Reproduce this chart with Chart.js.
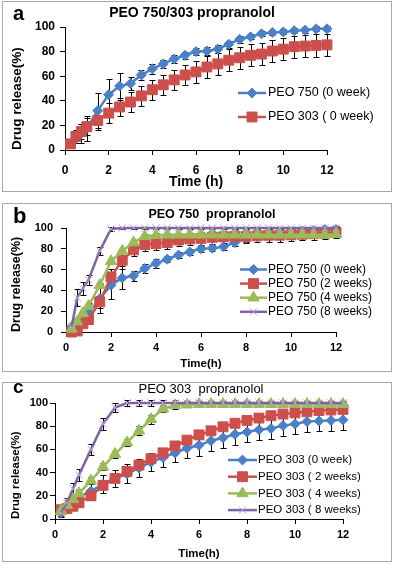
<!DOCTYPE html>
<html>
<head>
<meta charset="utf-8">
<script src="https://cdn.jsdelivr.net/npm/chart.js@4.4.1/dist/chart.umd.min.js"></script>
<style>
  body { margin: 0; background: #fff; width: 394px; height: 564px; position: relative; overflow: hidden; }
  .panel { position: absolute; left: 2px; width: 390px; box-sizing: border-box; border: 1px solid #a8a8a8; background: #fff; }
  .panel canvas { display: block; }
</style>
</head>
<body>
<div class="panel" style="top:1px;height:191px"><canvas id="chartA" width="388" height="189"></canvas></div>
<div class="panel" style="top:203px;height:169px"><canvas id="chartB" width="388" height="167"></canvas></div>
<div class="panel" style="top:382px;height:180px"><canvas id="chartC" width="388" height="178"></canvas></div>
<script>
// sampling times (h)
const times = [0.25, 0.5, 0.75, 1, 1.5, 2, 2.5, 3, 3.5, 4, 4.5, 5, 5.5, 6, 6.5, 7, 7.5, 8, 8.5, 9, 9.5, 10, 10.5, 11, 11.5, 12]

// PEO 750
const peo750w0 = [5, 9.5, 13.5, 17.5, 32, 45, 52, 54, 61, 66, 70, 74, 77, 80, 80.5, 82, 86, 90, 92, 94.5, 95.5, 96, 97, 97.5, 98.5, 98.5]
const err750w0 = [2, 4, 8, 10, 14, 13, 11, 5, 4, 4, 3, 3, 3, 3, 3, 3, 3, 3, 2, 2, 2, 2, 2, 2, 2, 2]
const peo750w2 = [0, 1, 8, 12, 29, 53, 69, 79, 84, 85, 86, 88.5, 89.5, 90, 91, 91.5, 92, 92, 92.5, 93, 93, 93.5, 94, 94.5, 95, 96]
const err750w2 = [1, 2, 3, 4, 6, 8, 8, 6, 6, 6, 6, 6, 6, 6, 6, 6, 6, 6, 6, 6, 6, 6, 6, 6, 6, 6]
const peo750w4 = [3, 10, 18, 25, 45, 68, 78, 86, 92, 93, 93.5, 93.5, 93.5, 93.5, 93.5, 93.5, 93.5, 93.5, 93.5, 93.5, 93.5, 93.5, 93.5, 93.5, 93.5, 94]
const err750w4 = [2, 2, 2, 2, 2, 2, 2, 2, 2, 2, 2, 2, 2, 2, 2, 2, 2, 2, 2, 2, 2, 2, 2, 2, 2, 2]
const peo750w8 = [5, 33, 42, 50, 78, 99, 100, 100, 100, 100, 100, 100, 100, 100, 100, 100, 100, 100, 100, 100, 100, 100, 100, 100, 100, 100]
const err750w8 = [2, 8, 6, 5, 4, 2, 1, 1, 1, 1, 1, 1, 1, 1, 1, 1, 1, 1, 1, 1, 1, 1, 1, 1, 1, 1]

// PEO 303
const peo303w0 = [5, 11, 15, 19, 24, 30, 35, 39, 44, 49, 53, 57, 61, 63.5, 67.5, 70, 73, 75, 77, 78, 80.5, 82, 84, 84.5, 85, 85.5]
const err303w0 = [3, 5, 6, 7, 8, 8, 7, 8, 8, 8, 8, 8, 8, 9, 9, 9, 9, 9, 9, 9, 9, 9, 9, 9, 9, 9]
const peo303w2 = [8, 9, 11, 14, 20, 29, 35, 41, 46.5, 52, 57, 63, 68, 72.5, 76, 79.5, 82.5, 85, 87, 89, 90.5, 91.5, 92.5, 93.5, 94, 94.5]
const err303w2 = [2, 2, 2, 3, 3, 3, 3, 3, 3, 3, 3, 3, 3, 3, 3, 3, 3, 3, 3, 3, 3, 3, 3, 3, 3, 3]
const peo303w4 = [7, 12, 17, 22, 33, 45, 56, 66, 76, 86, 95, 98, 98.5, 99, 99, 99, 99, 99, 99, 99, 99, 99, 99, 99, 99, 99]
const err303w4 = [2, 2, 3, 3, 3, 3, 3, 3, 4, 4, 3, 3, 2, 2, 2, 2, 2, 2, 2, 2, 2, 2, 2, 2, 2, 2]
const peo303w8 = [5, 14, 26, 38, 60, 82, 96, 100, 100, 100, 100, 100, 100, 100, 100, 100, 100, 100, 100, 100, 100, 100, 100, 100, 100, 100]
const err303w8 = [2, 4, 5, 5, 5, 5, 4, 3, 3, 3, 3, 3, 2, 2, 2, 2, 2, 2, 2, 2, 2, 2, 2, 2, 2, 2]

const xTicks = [0, 2, 4, 6, 8, 10, 12]
const yTicks = [0, 20, 40, 60, 80, 100]

const blue = '#4a80c8'
const red = '#cc4f4c'
const green = '#9bbb59'
const purple = '#8064a2'

Chart.defaults.font.family = "'Liberation Sans', Arial, sans-serif"
Chart.defaults.color = '#000'

function series(label, values, errors, color, style, radius, pointColor) {
    return {
        label: label,
        data: times.map((t, i) => ({ x: t, y: values[i] })),
        errors: errors,
        borderColor: color,
        backgroundColor: color,
        borderWidth: 2.5,
        pointStyle: style,
        pointRadius: radius,
        pointHoverRadius: radius,
        pointBackgroundColor: pointColor || color,
        pointBorderColor: pointColor || color,
        pointBorderWidth: 1,
        tension: 0,
        clip: false
    }
}

// error bars, drawn under the lines
const errorBars = {
    id: 'errorBars',
    beforeDatasetsDraw(chart) {
        const ctx = chart.ctx
        const x = chart.scales.x, y = chart.scales.y
        ctx.save()
        ctx.strokeStyle = '#000'
        ctx.lineWidth = 1
        chart.data.datasets.forEach(ds => {
            if (!ds.errors) return
            ds.data.forEach((p, j) => {
                const e = ds.errors[j]
                if (!e) return
                const px = Math.round(x.getPixelForValue(p.x)) + 0.5
                const top = Math.round(y.getPixelForValue(p.y + e)) + 0.5
                const bot = Math.round(y.getPixelForValue(p.y - e)) + 0.5
                ctx.beginPath()
                ctx.moveTo(px, top); ctx.lineTo(px, bot)
                ctx.moveTo(px - 3, top); ctx.lineTo(px + 3, top)
                ctx.moveTo(px - 3, bot); ctx.lineTo(px + 3, bot)
                ctx.stroke()
            })
        })
        ctx.restore()
    }
}

// legend inside the plot
const boxLegend = {
    id: 'boxLegend',
    afterDraw(chart, args, o) {
        const ctx = chart.ctx
        ctx.save()
        chart.data.datasets.forEach((ds, i) => {
            const y = o.y + i * o.dy
            ctx.strokeStyle = ds.borderColor
            ctx.lineWidth = ds.borderWidth
            ctx.beginPath()
            ctx.moveTo(o.x0, y); ctx.lineTo(o.x1, y)
            ctx.stroke()
            ctx.fillStyle = ds.pointBackgroundColor
            ctx.strokeStyle = ds.pointBorderColor
            ctx.lineWidth = 1
            Chart.helpers.drawPoint(ctx, { pointStyle: ds.pointStyle, radius: ds.pointRadius, borderWidth: 1, rotation: 0 }, (o.x0 + o.x1) / 2, y)
            ctx.fillStyle = '#000'
            ctx.font = o.font
            ctx.textAlign = 'left'
            ctx.textBaseline = 'middle'
            ctx.fillText(ds.label, o.textX, y)
        })
        ctx.restore()
    }
}

// panel letter + title
const panelText = {
    id: 'panelText',
    afterDraw(chart, args, o) {
        const ctx = chart.ctx
        ctx.save()
        ctx.fillStyle = '#000'
        ctx.font = o.letterFont
        ctx.textAlign = 'left'
        ctx.textBaseline = 'alphabetic'
        ctx.fillText(o.letter, o.letterX, o.letterY)
        ctx.font = o.titleFont
        ctx.textAlign = 'center'
        ctx.textBaseline = 'middle'
        ctx.fillText(o.title, o.titleX, o.titleY)
        ctx.restore()
    }
}

function scales(o) {
    return {
        x: {
            type: 'linear', min: 0, max: 12,
            afterBuildTicks: s => { s.ticks = xTicks.map(v => ({ value: v })) },
            ticks: { padding: o.xPad, color: '#000', font: { size: o.tickSize, weight: 'bold' } },
            grid: { drawOnChartArea: false, tickLength: 5, color: '#000' },
            border: { color: '#000', width: 1 },
            title: { display: true, text: o.xTitle, color: '#000', font: { size: o.xTitleSize, weight: 'bold' }, padding: { top: 0, bottom: 0 } },
            afterFit: s => { s.height = o.xH }
        },
        y: {
            type: 'linear', min: 0, max: 100,
            afterBuildTicks: s => { s.ticks = yTicks.map(v => ({ value: v })) },
            ticks: { padding: o.yPad, color: '#000', font: { size: o.tickSize, weight: 'bold' } },
            grid: { drawOnChartArea: false, tickLength: 5, color: '#000' },
            border: { color: '#000', width: 1 },
            title: { display: true, align: 'start', text: 'Drug release(%)', color: '#000', font: { size: o.yTitleSize, weight: 'bold' }, padding: { top: 4, bottom: 2 } },
            afterFit: s => { s.width = o.yW }
        }
    }
}

function makeChart(id, datasets, o) {
    datasets.forEach((ds, i) => { ds.order = -i })
    return new Chart(document.getElementById(id), {
        type: 'line',
        data: { datasets: datasets },
        options: {
            responsive: false,
            animation: false,
            layout: { padding: o.padding },
            scales: scales(o),
            plugins: {
                legend: { display: false },
                tooltip: { enabled: false },
                boxLegend: o.legend,
                panelText: o.text
            }
        },
        plugins: [errorBars, boxLegend, panelText]
    })
}

makeChart('chartA', [
    series('PEO 750 (0 week)', peo750w0, err750w0, blue, 'rectRot', 5),
    series('PEO 303 ( 0 week)', peo303w0, err303w0, red, 'rect', 7)
], {
    padding: { left: 2, right: 64, top: 25, bottom: 0 },
    yW: 60, xH: 41, xPad: 8, yPad: 5, tickSize: 12, xTitle: 'Time (h)', xTitleSize: 14, yTitleSize: 13.5,
    legend: { x0: 235, x1: 263, textX: 265, y: 91, dy: 24, font: "12.5px 'Liberation Sans', Arial" },
    text: { letter: 'a', letterX: 10, letterY: 18, letterFont: "bold 20px 'Liberation Sans', Arial",
        title: 'PEO 750/303 propranolol', titleX: 189, titleY: 11, titleFont: "bold 14px 'Liberation Sans', Arial" }
})

makeChart('chartB', [
    series('PEO 750 (0 week)', peo750w0, err750w0, blue, 'rectRot', 5),
    series('PEO 750 (2 weeks)', peo750w2, err750w2, red, 'rect', 7),
    series('PEO 750 (4 weeks)', peo750w4, err750w4, green, 'triangle', 6.5),
    series('PEO 750 (8 weeks)', peo750w8, err750w8, purple, 'crossRot', 5, '#b3a2d6')
], {
    padding: { left: 2, right: 55, top: 24, bottom: 0 },
    yW: 61, xH: 39, xPad: 4, yPad: 8, tickSize: 11, xTitle: 'Time(h)', xTitleSize: 11.5, yTitleSize: 12.5,
    legend: { x0: 237, x1: 264, textX: 265, y: 65.5, dy: 14.1, font: "12px 'Liberation Sans', Arial" },
    text: { letter: 'b', letterX: 10, letterY: 19, letterFont: "bold 22px 'Liberation Sans', Arial",
        title: 'PEO 750  propranolol', titleX: 209, titleY: 11, titleFont: "bold 12.5px 'Liberation Sans', Arial" }
})

makeChart('chartC', [
    series('PEO 303 (0 week)', peo303w0, err303w0, blue, 'rectRot', 5),
    series('PEO 303 ( 2 weeks)', peo303w2, err303w2, red, 'rect', 7),
    series('PEO 303 ( 4 weeks)', peo303w4, err303w4, green, 'triangle', 6.5),
    series('PEO 303 ( 8 weeks)', peo303w8, err303w8, purple, 'crossRot', 5, '#b3a2d6')
], {
    padding: { left: 2, right: 48, top: 20, bottom: 0 },
    yW: 50, xH: 42, xPad: 4, yPad: 2, tickSize: 11, xTitle: 'Time(h)', xTitleSize: 11.5, yTitleSize: 11.5,
    legend: { x0: 225, x1: 254, textX: 255, y: 77, dy: 16.7, font: "11.5px 'Liberation Sans', Arial" },
    text: { letter: 'c', letterX: 10, letterY: 10, letterFont: "bold 19px 'Liberation Sans', Arial",
        title: 'PEO 303  propranolol', titleX: 198, titleY: 6, titleFont: "13px 'Liberation Sans', Arial" }
})
</script>
</body>
</html>
